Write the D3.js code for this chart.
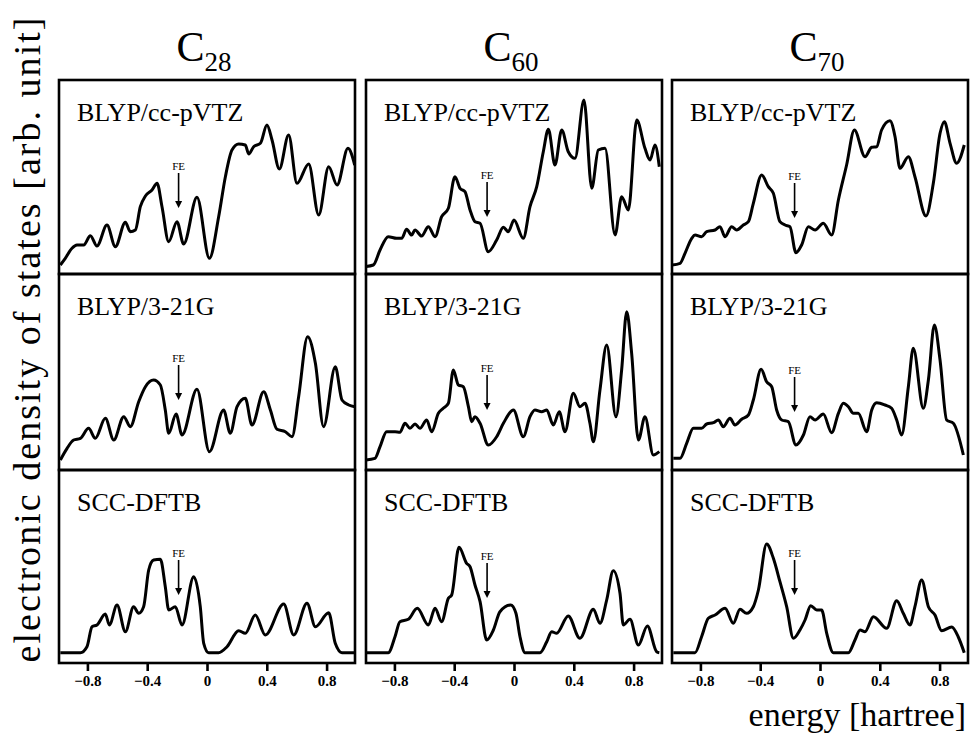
<html>
<head>
  <meta charset="utf-8">
  <title>Electronic density of states</title>
  <script src="https://d3js.org/d3.v7.min.js"></script>
  <style>
    body { margin: 0; background: #fff; }
    text { font-family: "Liberation Serif", "DejaVu Serif", serif; fill: #000; }
  </style>
</head>
<body>
<svg id="chart" width="975" height="736"></svg>
<script>

// molecules (columns) and methods (rows)
const molecules = ["28", "60", "70"];
const methods = ["BLYP/cc-pVTZ", "BLYP/3-21G", "SCC-DFTB"];
const xTicks = [-0.8, -0.4, 0, 0.4, 0.8];

// Fermi energy position per molecule [hartree]
const feEnergy = [-0.19, -0.18, -0.17];
// height of FE arrow tip, rows x columns [arb. unit]
const feTip = [[66, 57, 56], [70, 60, 58], [68, 65, 68]];

// DOS curves, [energy, DOS]
const c28VTZ = [[-0.981,9],[-0.948,15.7],[-0.903,25.7],[-0.870,29],[-0.825,29],[-0.780,38.3],[-0.736,28],[-0.669,49],[-0.613,27.3],[-0.546,51.7],[-0.513,42.3],[-0.479,44],[-0.446,67.3],[-0.412,78],[-0.368,84],[-0.334,90.7],[-0.301,67.3],[-0.256,32.3],[-0.201,52.3],[-0.156,30],[-0.067,76.7],[0.016,15.7],[0.078,57.3],[0.123,97.3],[0.167,124],[0.212,130],[0.256,129],[0.279,120],[0.312,127.3],[0.357,130.7],[0.401,149],[0.435,134],[0.484,105],[0.546,139],[0.602,90.7],[0.680,110],[0.747,59],[0.814,107.3],[0.870,89],[0.943,125.7],[0.988,109]];
const c60VTZ = [[-0.997,7.3],[-0.941,9],[-0.896,24],[-0.841,37.3],[-0.785,35.7],[-0.751,35.7],[-0.718,44.7],[-0.685,39],[-0.662,44],[-0.618,38],[-0.573,47.3],[-0.528,37.3],[-0.484,57.3],[-0.439,65.7],[-0.395,97.3],[-0.361,85.7],[-0.328,82.3],[-0.294,64],[-0.261,52.3],[-0.227,50.7],[-0.172,22.3],[-0.116,34],[-0.071,46.7],[-0.038,42.3],[0.0,54],[0.062,35.7],[0.107,67.3],[0.152,87.3],[0.196,122.3],[0.230,144.7],[0.274,109],[0.319,144],[0.363,122.3],[0.408,115.7],[0.468,174],[0.520,85.7],[0.564,124],[0.609,125.7],[0.676,39],[0.720,77.3],[0.765,64],[0.821,154],[0.876,125.7],[0.910,114],[0.943,129],[0.972,107.3]];
const c70VTZ = [[-0.992,9],[-0.936,10.7],[-0.903,20.7],[-0.858,35.7],[-0.836,39],[-0.792,37.3],[-0.758,42.3],[-0.702,44],[-0.669,47.3],[-0.635,37.3],[-0.591,47.3],[-0.557,44],[-0.513,49],[-0.479,52.3],[-0.446,70.7],[-0.390,99],[-0.346,87.3],[-0.312,80.7],[-0.268,52.3],[-0.234,49],[-0.201,47.3],[-0.161,21.3],[-0.123,29],[-0.078,47.3],[-0.033,44],[0.022,50.7],[0.078,39],[0.123,74],[0.178,109],[0.230,144],[0.301,117.3],[0.346,126.7],[0.379,127.3],[0.412,144],[0.468,153.3],[0.502,137.3],[0.535,105.7],[0.591,117.3],[0.635,97.3],[0.709,58],[0.758,90.7],[0.803,140.7],[0.832,152.3],[0.870,130.7],[0.914,110.7],[0.965,129]];

const c28G = [[-0.981,10],[-0.936,21.7],[-0.892,30],[-0.847,31.7],[-0.792,41.7],[-0.747,31.7],[-0.680,51.7],[-0.624,30],[-0.557,53.3],[-0.513,43.3],[-0.457,68.3],[-0.412,83.3],[-0.357,90],[-0.312,85],[-0.279,60],[-0.256,36.7],[-0.207,56],[-0.167,35],[-0.067,80.7],[0.016,18.3],[0.111,60],[0.156,36.7],[0.201,63.3],[0.256,71.7],[0.301,45],[0.379,78.3],[0.424,60],[0.468,40.7],[0.524,38.3],[0.569,33.3],[0.613,73.3],[0.673,133.3],[0.725,106.7],[0.780,43.3],[0.858,103.3],[0.903,70],[0.948,65],[0.988,63.3]];
const c60G = [[-0.997,10],[-0.930,11.7],[-0.896,23.3],[-0.852,38.3],[-0.796,38.3],[-0.763,37.7],[-0.729,46.7],[-0.696,41.7],[-0.662,46],[-0.629,41.7],[-0.584,50],[-0.551,38.3],[-0.506,56.7],[-0.473,61.7],[-0.439,66.7],[-0.406,100],[-0.372,85],[-0.339,83.3],[-0.305,63.3],[-0.283,48.3],[-0.261,53.3],[-0.227,46.7],[-0.172,25],[-0.116,33.3],[-0.071,46.7],[-0.004,60],[0.062,33.3],[0.107,53.3],[0.140,60],[0.185,58.3],[0.219,60],[0.263,45],[0.303,58.3],[0.341,38.3],[0.397,76.7],[0.441,63.3],[0.475,66.7],[0.508,46.7],[0.531,28.3],[0.575,80],[0.620,125],[0.682,53.3],[0.720,100],[0.754,158.3],[0.787,116.7],[0.832,30],[0.876,53.3],[0.932,15],[0.972,18.3]];
const c70G = [[-0.981,11.7],[-0.936,11.7],[-0.892,26.7],[-0.847,41.7],[-0.792,41.7],[-0.758,46],[-0.713,47.3],[-0.680,50],[-0.647,43.3],[-0.602,51.7],[-0.569,45],[-0.524,50.7],[-0.479,55],[-0.446,70],[-0.394,100.7],[-0.357,88.3],[-0.323,83.3],[-0.290,60],[-0.256,50],[-0.212,48.3],[-0.161,25],[-0.111,35],[-0.067,53.3],[-0.033,50],[0.022,56],[0.078,37.3],[0.123,56.7],[0.156,66.7],[0.190,63.3],[0.223,56.7],[0.256,56.7],[0.312,38.3],[0.346,60],[0.379,67.3],[0.435,65],[0.479,61.7],[0.513,50],[0.546,35],[0.591,83.3],[0.624,121.7],[0.691,61.7],[0.725,90],[0.765,145],[0.803,110],[0.847,50],[0.892,46.7],[0.959,15]];

const c28DFTB = [[-0.981,10.3],[-0.847,10.3],[-0.803,16.3],[-0.769,36.3],[-0.736,38],[-0.680,49],[-0.653,38],[-0.602,58],[-0.546,31.3],[-0.491,56.3],[-0.457,49.7],[-0.424,56.3],[-0.390,93],[-0.357,103],[-0.312,103.7],[-0.279,76.3],[-0.256,53],[-0.212,56.3],[-0.167,38],[-0.089,86.3],[-0.045,56.3],[-0.022,19.7],[0.011,10.3],[0.078,10.3],[0.134,16.3],[0.212,32.3],[0.256,29.7],[0.323,48],[0.390,28],[0.513,59],[0.580,28],[0.669,59.7],[0.725,36.3],[0.814,50.3],[0.858,19.7],[0.903,10.3],[0.988,10.3]];
const c60DFTB = [[-0.985,10.3],[-0.841,10.3],[-0.796,26.3],[-0.763,41.3],[-0.707,43.7],[-0.647,54.7],[-0.573,38],[-0.528,54.7],[-0.484,41.3],[-0.439,64.7],[-0.417,68],[-0.368,115.7],[-0.317,99.7],[-0.294,96.3],[-0.261,78],[-0.227,61.3],[-0.183,23],[-0.138,33],[-0.094,51.3],[-0.022,58],[0.013,49.7],[0.040,26.3],[0.074,10.3],[0.174,10.3],[0.219,21.3],[0.252,31.3],[0.285,29.7],[0.363,47],[0.441,24.7],[0.531,53.7],[0.575,39.7],[0.620,63],[0.664,92.3],[0.709,69.7],[0.731,38],[0.776,43.7],[0.832,18],[0.892,37],[0.954,11.3],[0.972,10.3]];
const c70DFTB = [[-0.981,10.3],[-0.836,10.3],[-0.792,26.3],[-0.747,44.7],[-0.702,48],[-0.635,54.7],[-0.580,39.7],[-0.535,53.7],[-0.491,49.7],[-0.446,56.3],[-0.412,73],[-0.357,119],[-0.312,104.7],[-0.268,81.3],[-0.223,56.3],[-0.178,24.7],[-0.134,33],[-0.100,43],[-0.062,57.3],[-0.022,53],[0.011,53],[0.045,29.7],[0.089,10.3],[0.190,10.3],[0.234,23],[0.268,33],[0.301,31.3],[0.357,46.3],[0.446,34.7],[0.513,62.3],[0.557,49.7],[0.602,38],[0.635,56.3],[0.680,83],[0.725,56.3],[0.769,48],[0.814,32.3],[0.881,36],[0.925,26],[0.965,10.3]];

const curves = [
  [c28VTZ, c60VTZ, c70VTZ],
  [c28G, c60G, c70G],
  [c28DFTB, c60DFTB, c70DFTB]
];

// layout
const colX = [59, 366, 672];
const panelW = 296;
const rowEdges = [80, 274, 470, 663];

const svg = d3.select("#chart");

for (let c = 0; c < 3; c++) {
  const x = d3.scaleLinear().domain([-0.99, 0.99]).range([colX[c], colX[c] + panelW]);

  // column title C_n
  const title = svg.append("text")
    .attr("x", colX[c] + panelW / 2 - 3)
    .attr("y", 61)
    .attr("font-size", 42)
    .attr("text-anchor", "middle");
  title.append("tspan").text("C");
  title.append("tspan").attr("font-size", 27).attr("dy", 10).text(molecules[c]);

  for (let r = 0; r < 3; r++) {
    const top = rowEdges[r], bottom = rowEdges[r + 1];
    const y = d3.scaleLinear().domain([0, bottom - top]).range([bottom, top]);
    const g = svg.append("g");
    const clipId = "clip" + r + c;

    g.append("clipPath").attr("id", clipId)
      .append("rect")
      .attr("x", colX[c]).attr("y", top)
      .attr("width", panelW).attr("height", bottom - top);

    const line = d3.line()
      .x(d => x(d[0]))
      .y(d => y(d[1]))
      .curve(d3.curveMonotoneX);

    g.append("path")
      .datum(curves[r][c])
      .attr("clip-path", "url(#" + clipId + ")")
      .attr("d", line)
      .attr("fill", "none")
      .attr("stroke", "#000")
      .attr("stroke-width", 3)
      .attr("stroke-linejoin", "round");

    // frame
    g.append("rect")
      .attr("x", colX[c]).attr("y", top)
      .attr("width", panelW).attr("height", bottom - top)
      .attr("fill", "none")
      .attr("stroke", "#000")
      .attr("stroke-width", 2.6);

    // method label
    g.append("text")
      .attr("x", colX[c] + 18)
      .attr("y", top + 41)
      .attr("font-size", 26)
      .text(methods[r]);

    // FE arrow
    const fx = x(feEnergy[c]);
    const tip = y(feTip[r][c]);
    g.append("line")
      .attr("x1", fx).attr("x2", fx)
      .attr("y1", tip - 35).attr("y2", tip - 5)
      .attr("stroke", "#000").attr("stroke-width", 1.6);
    g.append("path")
      .attr("d", d3.line()([[fx - 3.5, tip - 7], [fx + 3.5, tip - 7], [fx, tip]]) + "Z")
      .attr("fill", "#000");
    g.append("text")
      .attr("x", fx)
      .attr("y", tip - 38)
      .attr("font-size", 11)
      .attr("text-anchor", "middle")
      .text("FE");
  }

  // bottom axis
  const axis = d3.axisBottom(x)
    .tickValues(xTicks)
    .tickSize(8)
    .tickPadding(4)
    .tickFormat(d => d === 0 ? "0" : d3.format(".1f")(d));
  const ax = svg.append("g")
    .attr("transform", "translate(0," + rowEdges[3] + ")")
    .call(axis);
  ax.select(".domain").remove();
  ax.selectAll(".tick line").attr("stroke", "#000").attr("stroke-width", 2.6);
  ax.selectAll(".tick text")
    .attr("font-family", "Liberation Serif, serif")
    .attr("font-size", 15)
    .attr("font-weight", "bold");
}

// axis titles
svg.append("text")
  .attr("transform", "translate(40,340) rotate(-90)")
  .attr("text-anchor", "middle")
  .attr("font-size", 38)
  .attr("textLength", 645)
  .attr("lengthAdjust", "spacing")
  .text("electronic density of states [arb. unit]");

svg.append("text")
  .attr("x", 966)
  .attr("y", 726)
  .attr("text-anchor", "end")
  .attr("font-size", 34)
  .text("energy [hartree]");

</script>
</body>
</html>
